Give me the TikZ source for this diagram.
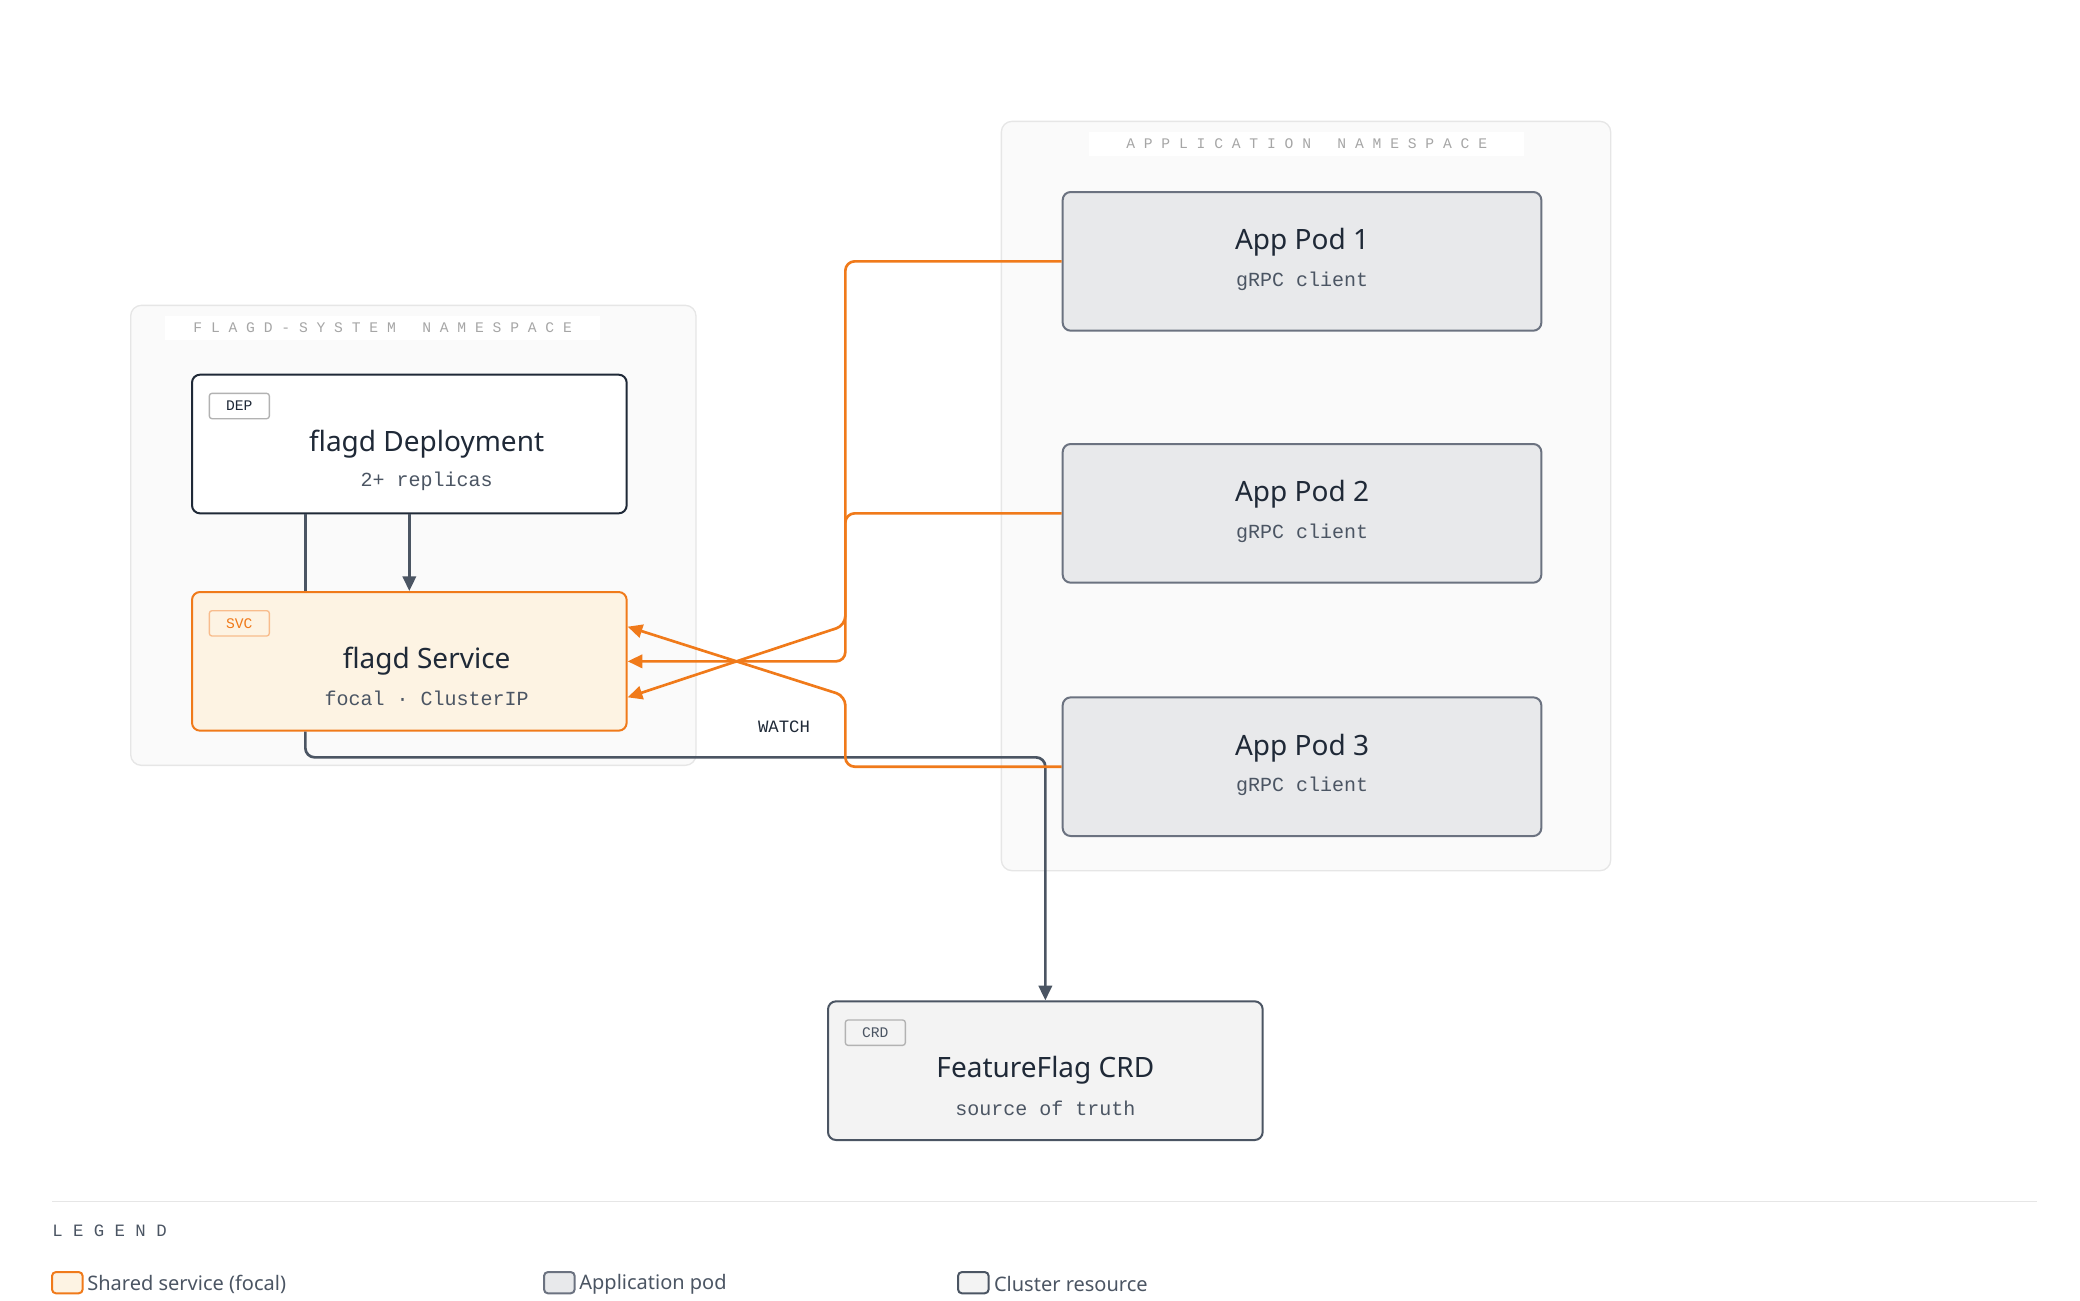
\documentclass[tikz,border=0pt]{standalone}
\usepackage{fontspec}
\setmainfont{Noto Sans}
\newfontfamily\monof{Liberation Mono}
\usetikzlibrary{arrows.meta}
\definecolor{ink}{HTML}{1F2937}
\definecolor{slate}{HTML}{4B5563}
\definecolor{podline}{HTML}{6B7280}
\definecolor{podfill}{HTML}{E8E9EB}
\definecolor{accent}{HTML}{F07A1A}
\definecolor{svcfill}{HTML}{FDF3E3}
\definecolor{crdfill}{HTML}{F3F3F3}
\definecolor{nsfill}{HTML}{FAFAFA}
\definecolor{nsline}{HTML}{E6E6E6}
\tikzset{
	ns/.style={draw=nsline, fill=nsfill, rounded corners=8pt, line width=1pt},
	nslabel/.style={fill=white, minimum width=326pt, minimum height=18pt, text=gray!70, font=\monof\fontsize{11}{11}\selectfont},
	box/.style={rounded corners=6pt, line width=1.5pt, minimum width=326pt, minimum height=104pt},
	badge/.style={draw=#1, rounded corners=2pt, line width=1pt, minimum width=45pt, minimum height=19pt, inner sep=0pt, font=\monof\fontsize{11}{11}\selectfont},
	ttl/.style={font=\bfseries\fontsize{21}{21}\selectfont, text=ink},
	sub/.style={font=\monof\fontsize{15}{15}\selectfont, text=slate},
	flow/.style={draw=accent, line width=2pt, rounded corners=7pt, -{Triangle[length=11pt,width=10pt]}},
	link/.style={draw=slate, line width=2pt, rounded corners=7pt},
	swatch/.style={rounded corners=3pt, line width=1.5pt, minimum width=23pt, minimum height=16pt, inner sep=0pt},
	lgd/.style={font=\fontsize{15}{15}\selectfont, text=slate, anchor=west}
}
\begin{document}
\begin{tikzpicture}[x=1pt, y=-1pt]
	\useasboundingbox (0,0) rectangle (1560,975);

	% namespaces
	\draw[ns] (98,229) rectangle (522,574);
	\node[nslabel] (sysns) at (287,246) {F L A G D - S Y S T E M \ \ N A M E S P A C E};
	\draw[ns] (751,91) rectangle (1208,653);
	\node[nslabel] (appns) at (980,108) {A P P L I C A T I O N \ \ N A M E S P A C E};

	% flagd deployment and service
	\node[box, draw=ink, fill=white] (dep) at (307,333) {};
	\node[badge=gray!60, text=ink] (depbadge) at (179.5,304.5) {DEP};
	\node[ttl] (deptitle) at (320,333) {flagd Deployment};
	\node[sub] (depsub) at (320,361) {2+ replicas};

	\node[box, draw=accent, fill=svcfill] (svc) at (307,496) {};
	\node[badge=accent!50, text=accent] (svcbadge) at (179.5,467.5) {SVC};
	\node[ttl] (svctitle) at (320,496) {flagd Service};
	\node[sub] (svcsub) at (320,524) {focal · ClusterIP};

	% application pods
	\foreach \i/\y in {1/196, 2/385, 3/575} {
		\node[box, minimum width=359pt, draw=podline, fill=podfill] (pod\i) at (976.5,\y) {};
		\node[ttl] (pod\i title) at (976.5,\y-14) {App Pod \i};
		\node[sub] (pod\i sub) at (976.5,\y+15) {gRPC client};
	}

	% feature flag crd
	\node[box, draw=slate, fill=crdfill] (crd) at (784,803) {};
	\node[badge=gray!60, text=slate] (crdbadge) at (656.5,774.5) {CRD};
	\node[ttl] (crdtitle) at (784,803) {FeatureFlag CRD};
	\node[sub] (crdsub) at (784,831) {source of truth};

	% connectors
	\draw[link, -{Triangle[length=11pt,width=10pt]}] (dep.south) -- (svc.north);
	\draw[link] ([xshift=-78pt]dep.south) -- ([xshift=-78pt]svc.north);
	\draw[link, -{Triangle[length=11pt,width=10pt]}] ([xshift=-78pt]svc.south) |- (784,568) -- (crd.north);
	\draw[flow] (pod1.west) -| (634,469) -- ([yshift=-27pt]svc.east);
	\draw[flow] (pod2.west) -| (634,496) -- (svc.east);
	\draw[flow] (pod3.west) -| (634,522) -- ([yshift=26pt]svc.east);
	\node[font=\monof\fontsize{13}{13}\selectfont, text=ink] (watch) at (588,545) {WATCH};

	% legend
	\draw[draw=nsline, line width=1pt] (39,901) -- (1528,901);
	\node[font=\monof\fontsize{13}{13}\selectfont, text=slate, anchor=west, inner sep=0pt] (legend) at (39,923) {L E G E N D};
	\node[swatch, draw=accent, fill=svcfill] (sw1) at (50.5,962) {};
	\node[lgd] (lg1) at (62,963) {Shared service (focal)};
	\node[swatch, draw=podline, fill=podfill] (sw2) at (419.5,962) {};
	\node[lgd] (lg2) at (431,963) {Application pod};
	\node[swatch, draw=slate, fill=crdfill] (sw3) at (730,962) {};
	\node[lgd] (lg3) at (742,963) {Cluster resource};
\end{tikzpicture}
\end{document}
